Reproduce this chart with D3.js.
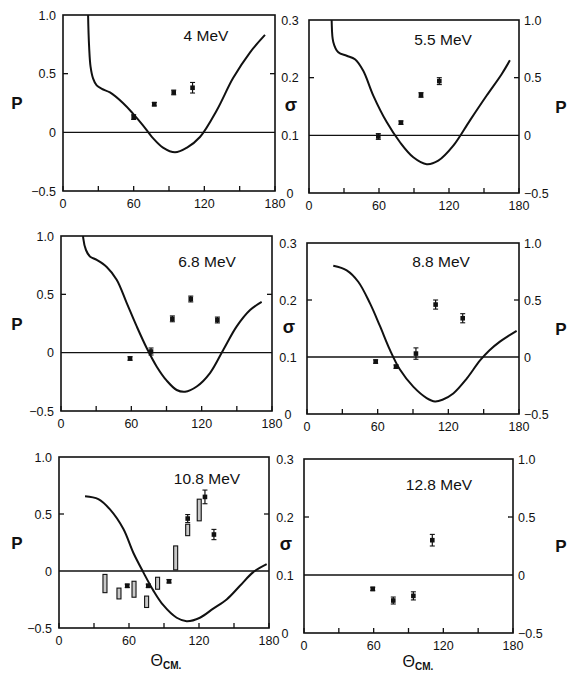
<!DOCTYPE html>
<html>
<head>
<meta charset="utf-8">
<script src="https://cdn.jsdelivr.net/npm/d3@7"></script>
<style>
  body { margin: 0; background: #fff; }
  text { font-family: "Liberation Sans", Arial, sans-serif; fill: #111; }
</style>
</head>
<body>
<div id="visSpace"></div>
<script>
// tick values and labels
var angleTicks = [0, 30, 60, 90, 120, 150, 180];
var angleLabels = [0, 60, 120, 180];
var pLabels = [1.0, 0.5, 0, -0.5];
var sigmaLabels = [0.3, 0.2, 0.1, 0];
var energies = ["4 MeV", "5.5 MeV", "6.8 MeV", "8.8 MeV", "10.8 MeV", "12.8 MeV"];

// polarization points: [angle, P, error]
var pol4 = [[60, 0.13, 0.02], [77.5, 0.24, 0.015], [94, 0.34, 0.02], [110, 0.38, 0.045]];
var pol55 = [[59.4, -0.01, 0.025], [78.8, 0.11, 0.015], [96, 0.35, 0.02], [111.7, 0.47, 0.03]];
var pol68 = [[58.9, -0.05, 0.015], [76.8, 0.01, 0.03], [95, 0.29, 0.025], [110.7, 0.46, 0.025], [133.4, 0.28, 0.025]];
var pol88 = [[58.3, -0.04, 0.015], [75.6, -0.085, 0.015], [92.5, 0.03, 0.05], [109.2, 0.46, 0.04], [132.2, 0.34, 0.04]];
var pol108 = [[58.5, -0.13, 0.015], [76.5, -0.13, 0.015], [94.3, -0.09, 0.015], [110.3, 0.46, 0.035], [125.1, 0.65, 0.06], [132.8, 0.32, 0.045]];
var pol128 = [[59.2, -0.12, 0.015], [76.9, -0.22, 0.03], [94.2, -0.18, 0.035], [110.5, 0.30, 0.05]];

// 10.8 MeV range bars: [angle, P low, P high]
var bars108 = [[39.4, -0.19, -0.03], [51.4, -0.245, -0.15], [64.3, -0.23, -0.09], [75.1, -0.32, -0.22],
               [84.5, -0.16, -0.055], [100, 0.01, 0.22], [110.3, 0.31, 0.41], [120.2, 0.44, 0.63]];

// cross section curves: [angle, sigma]
var sigma4 = [[20.9, 0.40], [21.3, 0.30], [22.2, 0.245], [23.4, 0.212], [25.5, 0.192], [28.6, 0.18], [33, 0.174],
              [39.9, 0.168], [50.9, 0.15], [59.4, 0.132], [67.9, 0.112], [76.4, 0.09], [84.9, 0.074],
              [95.1, 0.066], [105.3, 0.074], [116.3, 0.092], [130.7, 0.138], [144.3, 0.192], [158.7, 0.236], [171.5, 0.266]];
var sigma55 = [[19.0, 0.36], [19.4, 0.30], [20.8, 0.262], [25.1, 0.244], [32.3, 0.238], [39.4, 0.232], [46.5, 0.212],
               [55.1, 0.169], [66.6, 0.123], [78, 0.088], [89.4, 0.062], [100.9, 0.05], [110.8, 0.056],
               [123.7, 0.082], [138, 0.126], [152.3, 0.169], [165.1, 0.206], [172.2, 0.23]];
var sigma68 = [[18.5, 0.34], [19.0, 0.296], [21.3, 0.276], [24.7, 0.265], [30.5, 0.259], [39, 0.247], [47.5, 0.225],
               [56.1, 0.185], [64.6, 0.145], [73.1, 0.108], [81.7, 0.076], [90.2, 0.052], [98.7, 0.036],
               [105.8, 0.033], [115.8, 0.042], [127.1, 0.065], [138.5, 0.105], [149.9, 0.145], [161.3, 0.173], [171.2, 0.187]];
var sigma88 = [[22.3, 0.26], [33.7, 0.252], [43.5, 0.232], [53.5, 0.194], [62, 0.154], [70.5, 0.112], [78.9, 0.078],
               [90.2, 0.048], [101.6, 0.028], [108.7, 0.022], [115, 0.025], [124.2, 0.036], [135.6, 0.062],
               [146.9, 0.094], [155, 0.112], [163.8, 0.127], [171, 0.137], [178, 0.146]];
var sigma108 = [[22.3, 0.231], [33.7, 0.226], [43.7, 0.208], [55.1, 0.174], [63.7, 0.132], [72.2, 0.098], [80.8, 0.066],
                [89.4, 0.04], [100.9, 0.018], [109.4, 0.012], [120.8, 0.018], [132.2, 0.034], [143.7, 0.05],
                [155.1, 0.074], [166.5, 0.098], [178, 0.112]];

var series = [
  {label: energies[0], pol: pol4, sigma: sigma4, bars: []},
  {label: energies[1], pol: pol55, sigma: sigma55, bars: []},
  {label: energies[2], pol: pol68, sigma: sigma68, bars: []},
  {label: energies[3], pol: pol88, sigma: sigma88, bars: []},
  {label: energies[4], pol: pol108, sigma: sigma108, bars: bars108},
  {label: energies[5], pol: pol128, sigma: [], bars: []}
];

// frame of each panel as it sits on the scanned page
var frames = [
  {x: 63, y: 15, w: 212, h: 176, side: "left", tx: 206, ty: 41},
  {x: 309, y: 20, w: 210, h: 173, side: "right", tx: 443, ty: 45},
  {x: 61, y: 236, w: 211, h: 175, side: "left", tx: 207, ty: 267},
  {x: 307, y: 243, w: 212, h: 171, side: "right", tx: 441, ty: 267},
  {x: 59, y: 457, w: 210, h: 171, side: "left", tx: 207, ty: 484},
  {x: 304, y: 459, w: 209, h: 174, side: "right", tx: 439, ty: 490}
];

var svg = d3.select("#visSpace")
   .append("svg")
   .attr("width", 569)
   .attr("height", 675);

var fmt = function(v) { return v == 0 ? "0" : d3.format(".1f")(v); };

series.forEach(function(s, i) {
  var f = frames[i];
  var x = d3.scaleLinear().domain([0, 180]).range([f.x, f.x + f.w]);
  var yP = d3.scaleLinear().domain([-0.5, 1.0]).range([f.y + f.h, f.y]);
  var yS = d3.scaleLinear().domain([0, 0.3]).range([f.y + f.h, f.y]);
  var g = svg.append("g");

  //clip so the curves stop at the frame
  g.append("clipPath").attr("id", "clip" + i)
    .append("rect")
    .attr("x", f.x).attr("y", f.y).attr("width", f.w).attr("height", f.h);

  //frame
  g.append("rect")
    .attr("x", f.x).attr("y", f.y).attr("width", f.w).attr("height", f.h)
    .style("fill", "none").style("stroke", "#111").style("stroke-width", 1.6);

  //zero line
  g.append("line")
    .attr("x1", x(0)).attr("x2", x(180))
    .attr("y1", yP(0)).attr("y2", yP(0))
    .style("stroke", "#111").style("stroke-width", 1.3);

  //bottom ticks, pointing in
  g.selectAll(".xt").data(angleTicks).enter().append("line")
    .attr("x1", function(d) { return x(d); }).attr("x2", function(d) { return x(d); })
    .attr("y1", f.y + f.h).attr("y2", f.y + f.h - 5)
    .style("stroke", "#111").style("stroke-width", 1.3);
  g.selectAll(".xl").data(angleLabels).enter().append("text")
    .text(function(d) { return d; })
    .attr("x", function(d) { return x(d); })
    .attr("y", f.y + f.h + 17)
    .attr("text-anchor", "middle")
    .style("font-size", "12.5px");

  //side ticks at 0.5
  [f.x, f.x + f.w].forEach(function(sx, k) {
    g.append("line")
      .attr("x1", sx).attr("x2", sx + (k == 0 ? 5 : -5))
      .attr("y1", yP(0.5)).attr("y2", yP(0.5))
      .style("stroke", "#111").style("stroke-width", 1.3);
  });

  if (f.side == "left") {
    g.selectAll(".pl").data(pLabels).enter().append("text")
      .text(fmt)
      .attr("x", f.x - 7)
      .attr("y", function(d) { return yP(d) + 4.5; })
      .attr("text-anchor", "end")
      .style("font-size", "12.5px");
    g.append("text").text("P")
      .attr("x", 17).attr("y", yP(0.25) + 6)
      .attr("text-anchor", "middle")
      .style("font-size", "17px").style("font-weight", "bold");
  } else {
    g.selectAll(".sl").data(sigmaLabels).enter().append("text")
      .text(fmt)
      .attr("x", f.x - 19)
      .attr("y", function(d) { return yS(d) + 4.5; })
      .attr("text-anchor", "middle")
      .style("font-size", "12.5px");
    g.append("text").text("σ")
      .attr("x", f.x - 18).attr("y", yP(0.25) + 4)
      .attr("text-anchor", "middle")
      .style("font-size", "18px").style("font-weight", "bold");
    g.selectAll(".pr").data(pLabels).enter().append("text")
      .text(fmt)
      .attr("x", f.x + f.w + 5)
      .attr("y", function(d) { return yP(d) + 4.5; })
      .attr("text-anchor", "start")
      .style("font-size", "12.5px");
    g.append("text").text("P")
      .attr("x", 561).attr("y", yP(0.25) + 6)
      .attr("text-anchor", "middle")
      .style("font-size", "17px").style("font-weight", "bold");
  }

  //energy label
  g.append("text").text(s.label)
    .attr("x", f.tx).attr("y", f.ty)
    .attr("text-anchor", "middle")
    .style("font-size", "15.5px");

  //cross section curve
  if (s.sigma.length) {
    var line = d3.line()
      .x(function(d) { return x(d[0]); })
      .y(function(d) { return yS(d[1]); })
      .curve(d3.curveCatmullRom.alpha(0.5));
    g.append("path")
      .datum(s.sigma)
      .attr("clip-path", "url(#clip" + i + ")")
      .attr("d", line)
      .style("fill", "none").style("stroke", "#111").style("stroke-width", 2);
  }

  //range bars
  g.selectAll(".bar").data(s.bars).enter().append("rect")
    .attr("x", function(d) { return x(d[0]) - 2; })
    .attr("y", function(d) { return yP(d[2]); })
    .attr("width", 4)
    .attr("height", function(d) { return yP(d[1]) - yP(d[2]); })
    .style("fill", "#c8c8c8").style("stroke", "#111").style("stroke-width", 1.1);

  //error bars
  var pts = g.selectAll(".pt").data(s.pol).enter().append("g");
  pts.append("line")
    .attr("x1", function(d) { return x(d[0]); }).attr("x2", function(d) { return x(d[0]); })
    .attr("y1", function(d) { return yP(d[1] - d[2]); })
    .attr("y2", function(d) { return yP(d[1] + d[2]); })
    .style("stroke", "#111").style("stroke-width", 1.2);
  [-1, 1].forEach(function(sg) {
    pts.append("line")
      .attr("x1", function(d) { return x(d[0]) - 2.5; })
      .attr("x2", function(d) { return x(d[0]) + 2.5; })
      .attr("y1", function(d) { return yP(d[1] + sg * d[2]); })
      .attr("y2", function(d) { return yP(d[1] + sg * d[2]); })
      .style("stroke", "#111").style("stroke-width", 1.1);
  });
  pts.append("rect")
    .attr("x", function(d) { return x(d[0]) - 2.3; })
    .attr("y", function(d) { return yP(d[1]) - 2.3; })
    .attr("width", 4.6).attr("height", 4.6)
    .style("fill", "#111");
});

//theta axis titles under the bottom row
[{x: 166, y: 666}, {x: 418, y: 667}].forEach(function(p) {
  var t = svg.append("text")
    .attr("x", p.x).attr("y", p.y)
    .attr("text-anchor", "middle")
    .style("font-size", "16px");
  t.append("tspan").text("Θ");
  t.append("tspan").text("CM.")
    .attr("dy", 3)
    .style("font-size", "10px").style("font-weight", "bold");
});
</script>
</body>
</html>
